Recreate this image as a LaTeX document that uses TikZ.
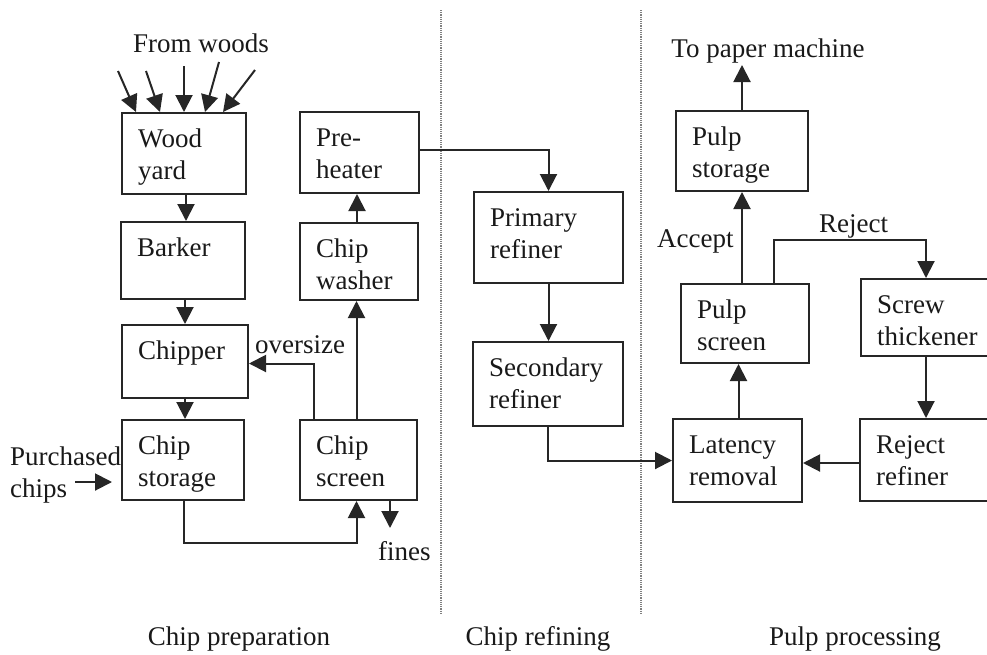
\documentclass[tikz,border=0pt]{standalone}
\usepackage{fontspec}
\setmainfont{Liberation Serif}
\usetikzlibrary{arrows.meta}

% text lines stacked under a first-line baseline
\newcommand\stack[1]{\begin{tabular}[t]{@{}l@{}}#1\end{tabular}}
% a process block: name, left, top, width, height, label (top-left aligned)
\newcommand\procbox[6]{%
  \node[box, minimum width=#4pt, minimum height=#5pt] (#1) at (#2,#3) {};
  \node[lbl, anchor=base west] (#1-txt) at ([xshift=17pt,yshift=-35pt]#1.north west) {\stack{#6}};%
}

\begin{document}
\begin{tikzpicture}[x=1pt,y=-1pt,
  box/.style={draw=black!85, line width=2pt, rectangle, inner sep=0pt, anchor=north west},
  lbl/.style={font=\fontsize{27}{32}\selectfont, inner sep=0pt, text=black!90},
  arr/.style={draw=black!85, line width=2pt, -{Triangle[length=17pt,width=17pt]}},
  divider/.style={draw=black!50, line width=1.2pt, densely dotted},
]
\clip (0,0) rectangle (987,654);

% section dividers
\coordinate (d1top) at (441,10);
\coordinate (d1bot) at (441,613);
\coordinate (d2top) at (641,10);
\coordinate (d2bot) at (641,613);
\draw[divider] (d1top) -- (d1bot);
\draw[divider] (d2top) -- (d2bot);

% chip preparation
\procbox{wood}{121}{112}{124}{81}{Wood\\yard}
\procbox{barker}{120}{221}{124}{77}{Barker}
\procbox{chipper}{121}{324}{126}{73}{Chipper}
\procbox{storage}{121}{419}{122}{80}{Chip\\storage}
\procbox{screen}{299}{419}{117}{80}{Chip\\screen}
\procbox{washer}{299}{222}{118}{77}{Chip\\washer}
\procbox{preheat}{299}{111}{119}{81}{Pre-\\heater}

% chip refining
\procbox{primary}{473}{191}{149}{91}{Primary\\refiner}
\procbox{secondary}{472}{341}{150}{84}{Secondary\\refiner}

% pulp processing
\procbox{pstore}{675}{110}{132}{80}{Pulp\\storage}
\procbox{pscreen}{680}{283}{128}{79}{Pulp\\screen}
\procbox{latency}{672}{418}{129}{83}{Latency\\removal}
\procbox{screw}{860}{278}{130}{77}{Screw\\thickener}
\procbox{rrefiner}{859}{418}{132}{82}{Reject\\refiner}

% wood supply
\node[lbl, anchor=base west] (woods) at (133,52) {From woods};
\coordinate (w1) at (118,71);
\coordinate (w2) at (146,71);
\coordinate (w3) at (184,66);
\coordinate (w4) at (219,62);
\coordinate (w5) at (255,70);
\draw[arr] (w1) -- ([xshift=15pt]wood.north west);
\draw[arr] (w2) -- ([xshift=39pt]wood.north west);
\draw[arr] (w3) -- (w3 |- wood.north);
\draw[arr] (w4) -- ([xshift=84pt]wood.north west);
\draw[arr] (w5) -- ([xshift=102pt]wood.north west);

% purchased chips
\node[lbl, anchor=base west] (purch) at (10,465) {\stack{Purchased\\chips}};
\coordinate (pc1) at (75,482);
\coordinate (pc2) at (112,482);
\draw[arr] (pc1) -- (pc2);

% chip preparation flow
\draw[arr] ([xshift=2pt]wood.south) -- ([xshift=2pt]wood.south |- barker.north);
\draw[arr] ([xshift=2pt]barker.south) -- ([xshift=2pt]barker.south |- chipper.north);
\draw[arr] (chipper.south) -- (chipper.south |- storage.north);
\draw[arr] ([xshift=1pt]storage.south) -- ++(0,42) -| ([xshift=-2pt]screen.south);
\draw[arr] ([xshift=-2pt]screen.north) -- ([xshift=-2pt]screen.north |- washer.south);
\draw[arr] ([xshift=-2pt]washer.north) -- ([xshift=-2pt]washer.north |- preheat.south);
\draw[arr] ([xshift=15pt]screen.north west) |- ([yshift=-2pt]chipper.east);
\node[lbl, anchor=base west] (oversize) at (255,353) {oversize};
\coordinate (finesend) at (390,528);
\draw[arr] (screen.south -| finesend) -- (finesend);
\node[lbl, anchor=base west] (fines) at (378,560) {fines};

% chip refining flow
\draw[arr] ([yshift=3pt]preheat.east) -| (primary.north);
\draw[arr] (primary.south) -- (primary.south |- secondary.north);
\draw[arr] (secondary.south) |- (latency.west);

% pulp processing flow
\draw[arr] ([xshift=1pt]latency.north) -- ([xshift=1pt]latency.north |- pscreen.south);
\draw[arr] (pstore.south |- pscreen.north) -- (pstore.south);
\coordinate (paper) at (741,65);
\draw[arr] (pstore.north) -- (pstore.north |- paper);
\node[lbl, anchor=base] (papertxt) at (768,57) {To paper machine};
\node[lbl, anchor=base west] (accept) at (657,247) {Accept};
\draw[arr] ([xshift=94pt]pscreen.north west) -- ++(0,-43) -| (screw.north);
\node[lbl, anchor=base west] (reject) at (819,232) {Reject};
\draw[arr] (screw.south) -- (rrefiner.north);
\draw[arr] ([yshift=-3pt]rrefiner.west) -- ([yshift=-3pt]rrefiner.west -| latency.east);

% section titles
\node[lbl, anchor=base] (t1) at (239,645) {Chip preparation};
\node[lbl, anchor=base] (t2) at (538,645) {Chip refining};
\node[lbl, anchor=base] (t3) at (855,645) {Pulp processing};
\end{tikzpicture}
\end{document}
